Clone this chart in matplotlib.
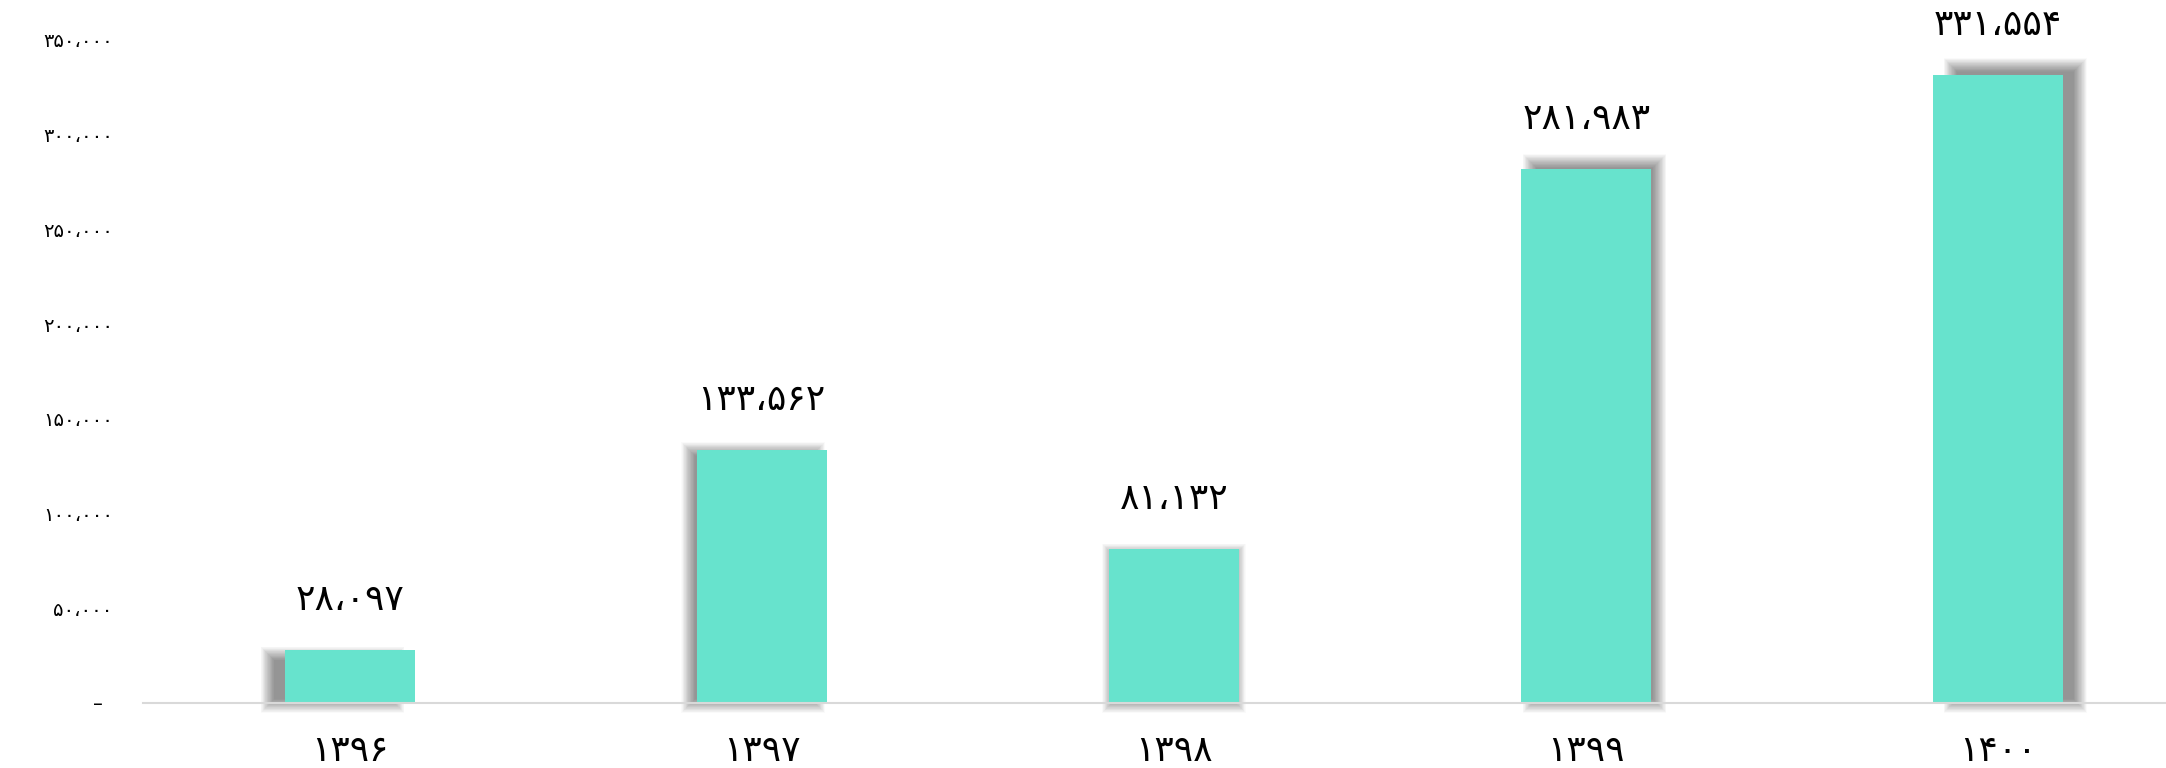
import numpy as np
import matplotlib
matplotlib.use('Agg')
import matplotlib.pyplot as plt
from matplotlib.patches import Rectangle

plt.rcParams['font.family'] = ['DejaVu Sans']

# data
years = ['1396', '1397', '1398', '1399', '1400']
values = [28097, 133562, 81132, 281983, 331554]
y_ticks = [0, 50000, 100000, 150000, 200000, 250000, 300000, 350000]

FA = str.maketrans('0123456789,', '۰۱۲۳۴۵۶۷۸۹،')


def fa(v):
    return f'{v:,}'.translate(FA)


W, H, DPI = 2166, 768, 100
SLOT = 412.2          # px per category
AX_LEFT = 143.4
fig = plt.figure(figsize=(W / DPI, H / DPI), dpi=DPI)
ax = fig.add_axes([AX_LEFT / W, 65 / H, (W - AX_LEFT) / W, 663 / H])

x = np.arange(len(years))
bar_w = 130 / SLOT
ax.set_xlim(-0.5, -0.5 + (W - AX_LEFT) / SLOT)
ax.set_ylim(0, 350000)

px_x = 1 / SLOT
px_y = 350000 / 663

# soft perspective shadows behind the bars (stacked translucent layers)
n_layers, blur = 24, 7.0
a = 1 - (1 - 0.40) ** (1 / n_layers)
for i, (xi, v) in enumerate(zip(x, values)):
    dx = 8.5 * (i - 2) * px_x
    left = xi - bar_w / 2 + dx
    bottom = -3 * px_y
    top = v * 1.024 - 5 * px_y
    for k in range(n_layers):
        e = -blur + 2 * blur * (k + 0.5) / n_layers
        ax.add_patch(Rectangle((left - e * px_x, bottom - e * px_y),
                               bar_w + 2 * e * px_x, top - bottom + 2 * e * px_y,
                               facecolor='black', alpha=a, lw=0, zorder=1,
                               antialiased=True, clip_on=False))

ax.bar(x, values, width=bar_w, color='#67e3cd', zorder=2)

for xi, v in zip(x, values):
    ax.annotate(fa(v), (xi, v), xytext=(0, 36), textcoords='offset points',
                ha='center', va='center', fontsize=26)

ax.set_xticks(x)
ax.set_xticklabels([y.translate(FA) for y in years])
ax.set_yticks(y_ticks)
ax.set_yticklabels(['–\u2002' if t == 0 else fa(t) for t in y_ticks])

for s in ['top', 'right', 'left']:
    ax.spines[s].set_visible(False)
ax.spines['bottom'].set_color('#d9d9d9')
ax.spines['bottom'].set_linewidth(1.5)
ax.spines['bottom'].set_zorder(3)

ax.tick_params(axis='both', length=0)
ax.tick_params(axis='y', pad=22, labelsize=14)
ax.tick_params(axis='x', pad=22, labelsize=26)

fig.savefig('out.png', dpi=DPI)
